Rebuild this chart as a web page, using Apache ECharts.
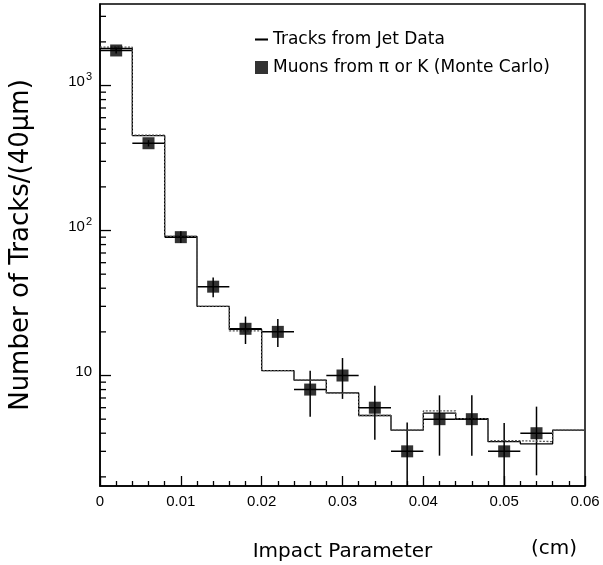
<!DOCTYPE html>
<html>
<head>
<meta charset="utf-8">
<title>Impact Parameter</title>
<script src="https://cdn.jsdelivr.net/npm/echarts@6/dist/echarts.min.js"></script>
<style>
  * { margin: 0; padding: 0 }
  html, body { width: 100%; height: 100%; background: #fff; }
  #main { width: 603px; height: 565px; }
</style>
</head>
<body>
<div id="main"></div>
<script>
// bin edges (cm), 40 um bins
var binEdges = [0, 0.004, 0.008, 0.012, 0.016, 0.020, 0.024, 0.028, 0.032, 0.036, 0.040, 0.044, 0.048, 0.052, 0.056, 0.060];
// tracks from jet data (solid histogram)
var jetCounts = [1800, 452, 91, 30, 20.8, 10.8, 9.3, 7.6, 5.3, 4.2, 5.5, 5.05, 3.5, 3.38, 4.2];
// dotted histogram
var dotCounts = [1840, 455, 91, 30, 20.3, 10.8, 9.3, 7.56, 5.3, 4.2, 5.7, 5.05, 3.55, 3.5, 4.2];
// muons from pi or K (Monte Carlo)
var muonX  = [0.002, 0.006, 0.010, 0.014, 0.018, 0.022, 0.026, 0.030, 0.034, 0.038, 0.042, 0.046, 0.050, 0.054];
var muonY  = [1745, 400, 90, 41, 21, 20, 8, 10, 6, 3, 5, 5, 3, 4];
var muonLo = [1660, 380, 82, 34.7, 16.5, 15.7, 5.2, 6.9, 3.6, 1.5, 2.8, 2.8, 1.5, 2.05];
var muonHi = [1830, 420, 99, 47.4, 25.5, 24.5, 10.8, 13.2, 8.5, 4.74, 7.3, 7.3, 4.7, 6.1];
var halfBin = 0.002;

var yMin = 1.73, yMax = 3650;
var yMajor = [10, 100, 1000];
var yMinor = [2, 3, 4, 5, 6, 7, 8, 9, 20, 30, 40, 50, 60, 70, 80, 90, 200, 300, 400, 500, 600, 700, 800, 900, 2000, 3000];

function stepData(counts) {
  var d = [];
  for (var i = 0; i < counts.length; i++) d.push([binEdges[i], counts[i]]);
  d.push([binEdges[counts.length], counts[counts.length - 1]]);
  return d;
}

var points = [];
for (var i = 0; i < muonX.length; i++) points.push([muonX[i], muonY[i], muonLo[i], muonHi[i]]);

// y ticks on the log axis: [x, value, length px]
var yTicks = yMajor.map(function (v) { return [0.0002, v, 11]; })
  .concat(yMinor.map(function (v) { return [0.0002, v, 6]; }));

var chart = echarts.init(document.getElementById('main'));
chart.setOption({
  backgroundColor: '#fff',
  animation: false,
  grid: { left: 100, right: 18, top: 4, bottom: 79, outerBoundsMode: 'none', show: true, borderColor: '#000', borderWidth: 1.5 },
  legend: {
    orient: 'vertical', left: 250, top: 26, itemWidth: 13, itemHeight: 13, itemGap: 11,
    data: [
      { name: 'Tracks from Jet Data', icon: 'path://M0,0H10V1.6H0Z' },
      { name: 'Muons from π or K (Monte Carlo)', icon: 'rect' }
    ],
    textStyle: { fontFamily: 'DejaVu Sans', fontSize: 17, color: '#000' }
  },
  xAxis: {
    type: 'value', min: 0, max: 0.06, interval: 0.01,
    name: 'Impact Parameter', nameLocation: 'middle', nameGap: 56,
    nameTextStyle: { fontFamily: 'DejaVu Sans', fontSize: 20, color: '#000' },
    axisLine: { lineStyle: { color: '#000', width: 1.5 } },
    axisTick: { inside: true, length: 10, lineStyle: { color: '#000', width: 1.3 } },
    minorTick: { show: true, splitNumber: 5, length: 5, lineStyle: { color: '#000', width: 1.3 } },
    splitLine: { show: false },
    axisLabel: {
      margin: 8, color: '#000', fontFamily: 'Liberation Sans', fontSize: 15,
      formatter: function (v) { return String(+v.toFixed(2)); }
    }
  },
  yAxis: {
    type: 'log', logBase: 10, min: yMin, max: yMax,
    name: 'Number of Tracks/(40μm)', nameLocation: 'middle', nameGap: 66,
    nameTextStyle: { fontFamily: 'DejaVu Sans', fontSize: 26, color: '#000' },
    axisLine: { show: true, lineStyle: { color: '#000', width: 1.5 } },
    axisTick: { show: false },
    splitLine: { show: false },
    axisLabel: {
      margin: 8, color: '#000', customValues: yMajor,
      formatter: function (v) {
        if (v >= 999) return '{b|10}{s|3}';
        if (v >= 99) return '{b|10}{s|2}';
        return '{b|10}';
      },
      rich: {
        b: { fontFamily: 'Liberation Sans', fontSize: 15, color: '#000', padding: [0, 0, 8, 0] },
        s: { fontFamily: 'Liberation Sans', fontSize: 11, color: '#000', padding: [0, 0, 18, 1] }
      }
    }
  },
  graphic: [{
    type: 'text', left: 531, top: 539,
    style: { text: '(cm)', fontFamily: 'DejaVu Sans', fontSize: 20, fill: '#000' }
  }],
  series: [{
    name: 'Tracks from Jet Data', type: 'line', step: 'end', symbol: 'none',
    data: stepData(jetCounts),
    lineStyle: { color: '#000', width: 1.3 }, itemStyle: { color: '#000' }
  }, {
    name: 'dotted', type: 'line', step: 'end', symbol: 'none',
    data: stepData(dotCounts),
    lineStyle: { color: '#555', width: 1.3, type: [2, 1.5] }
  }, {
    name: 'yticks', type: 'custom', clip: false, silent: true, z: 5,
    encode: { x: 0, y: 1 },
    data: yTicks,
    renderItem: function (params, api) {
      var p = api.coord([api.value(0), api.value(1)]);
      var x0 = params.coordSys.x;
      return {
        type: 'line',
        shape: { x1: x0, y1: p[1], x2: x0 + api.value(2), y2: p[1] },
        style: { stroke: '#000', lineWidth: 1.3 }
      };
    }
  }, {
    name: 'errors', type: 'custom', clip: true,
    data: points,
    renderItem: function (params, api) {
      var x = api.value(0), y = api.value(1);
      var l = api.coord([x - halfBin, y]);
      var r = api.coord([x + halfBin, y]);
      var lo = api.coord([x, api.value(2)]);
      var hi = api.coord([x, api.value(3)]);
      var style = { stroke: '#000', lineWidth: 1.5 };
      return {
        type: 'group',
        children: [
          { type: 'line', shape: { x1: l[0], y1: l[1], x2: r[0], y2: r[1] }, style: style },
          { type: 'line', shape: { x1: lo[0], y1: lo[1], x2: hi[0], y2: hi[1] }, style: style }
        ]
      };
    },
    z: 3
  }, {
    name: 'Muons from π or K (Monte Carlo)', type: 'scatter', symbol: 'rect', symbolSize: 12,
    data: points.map(function (p) { return [p[0], p[1]]; }),
    itemStyle: { color: '#000' }, z: 4
  }]
});
</script>
</body>
</html>
